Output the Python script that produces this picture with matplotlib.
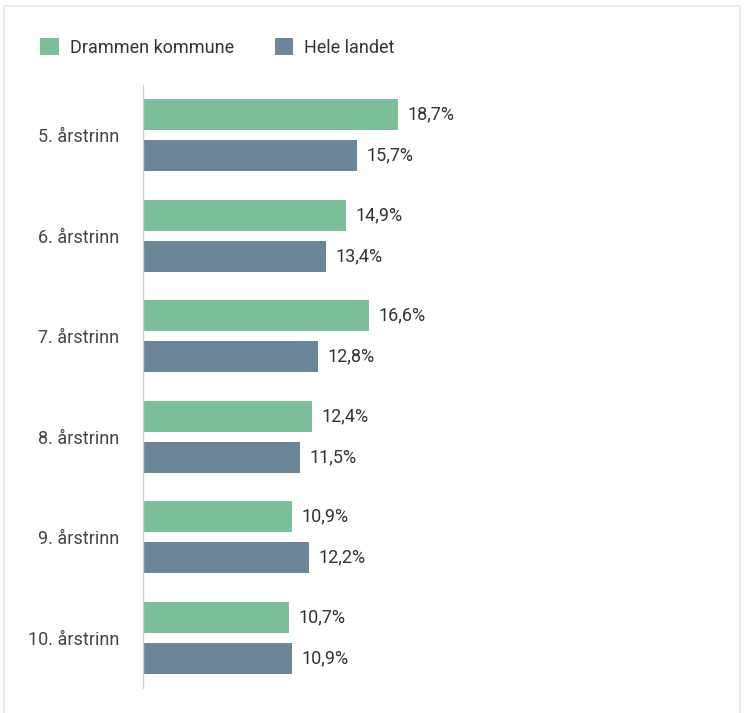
import matplotlib.pyplot as plt
import numpy as np
from matplotlib.patches import Rectangle

# data
trinn = ['5. årstrinn', '6. årstrinn', '7. årstrinn', '8. årstrinn', '9. årstrinn', '10. årstrinn']
drammen = [18.7, 14.9, 16.6, 12.4, 10.9, 10.7]
landet = [15.7, 13.4, 12.8, 11.5, 12.2, 10.9]
serier = ['Drammen kommune', 'Hele landet']

groen = '#7dbe9a'
blaa = '#6b8599'
fs = 13

plt.rcParams['font.family'] = ['Roboto', 'DejaVu Sans']

fig = plt.figure(figsize=(7.45, 7.13), dpi=100)
ax = fig.add_axes([143 / 745, 1 - 688 / 713, 0.75, (688 - 85) / 713])

y = np.arange(len(trinn))
h = 0.308
off = 0.204
b1 = ax.barh(y - off, drammen, height=h, color=groen, label=serier[0])
b2 = ax.barh(y + off, landet, height=h, color=blaa, label=serier[1])

for bars, vals in [(b1, drammen), (b2, landet)]:
    for b, v in zip(bars, vals):
        ax.text(v + 0.7, b.get_y() + b.get_height() / 2, f'{v:.1f}%'.replace('.', ','),
                va='center', ha='left', fontsize=fs, color='#333333')

ax.set_xlim(0, 0.75 * 745 / (255 / 18.7))
ax.set_ylim(len(trinn) - 0.5, -0.5)
ax.set_yticks(y)
ax.set_yticklabels(trinn, fontsize=fs, color='#444444')
ax.tick_params(axis='y', length=0, pad=17)
ax.set_xticks([])
for s in ['top', 'right', 'bottom']:
    ax.spines[s].set_visible(False)
ax.spines['left'].set_color('#c8d2e4')
ax.spines['left'].set_linewidth(1)

# legend
leg = fig.legend(handles=[b1, b2], labels=serier, loc='upper left',
                 bbox_to_anchor=(40 / 745, 1 - 38 / 713), ncol=2, frameon=False,
                 borderaxespad=0, borderpad=0,
                 fontsize=fs, handlelength=1.05, handleheight=1.05,
                 handletextpad=0.6, columnspacing=2.25, labelcolor='#333333')

# light frame around the chart
fig.add_artist(Rectangle((4 / 745, -0.02), 736 / 745, 1 - 6 / 713 + 0.02,
                         transform=fig.transFigure, fill=False,
                         edgecolor='#e6e6e6', linewidth=1.2))

fig.savefig('out.png', dpi=100)
